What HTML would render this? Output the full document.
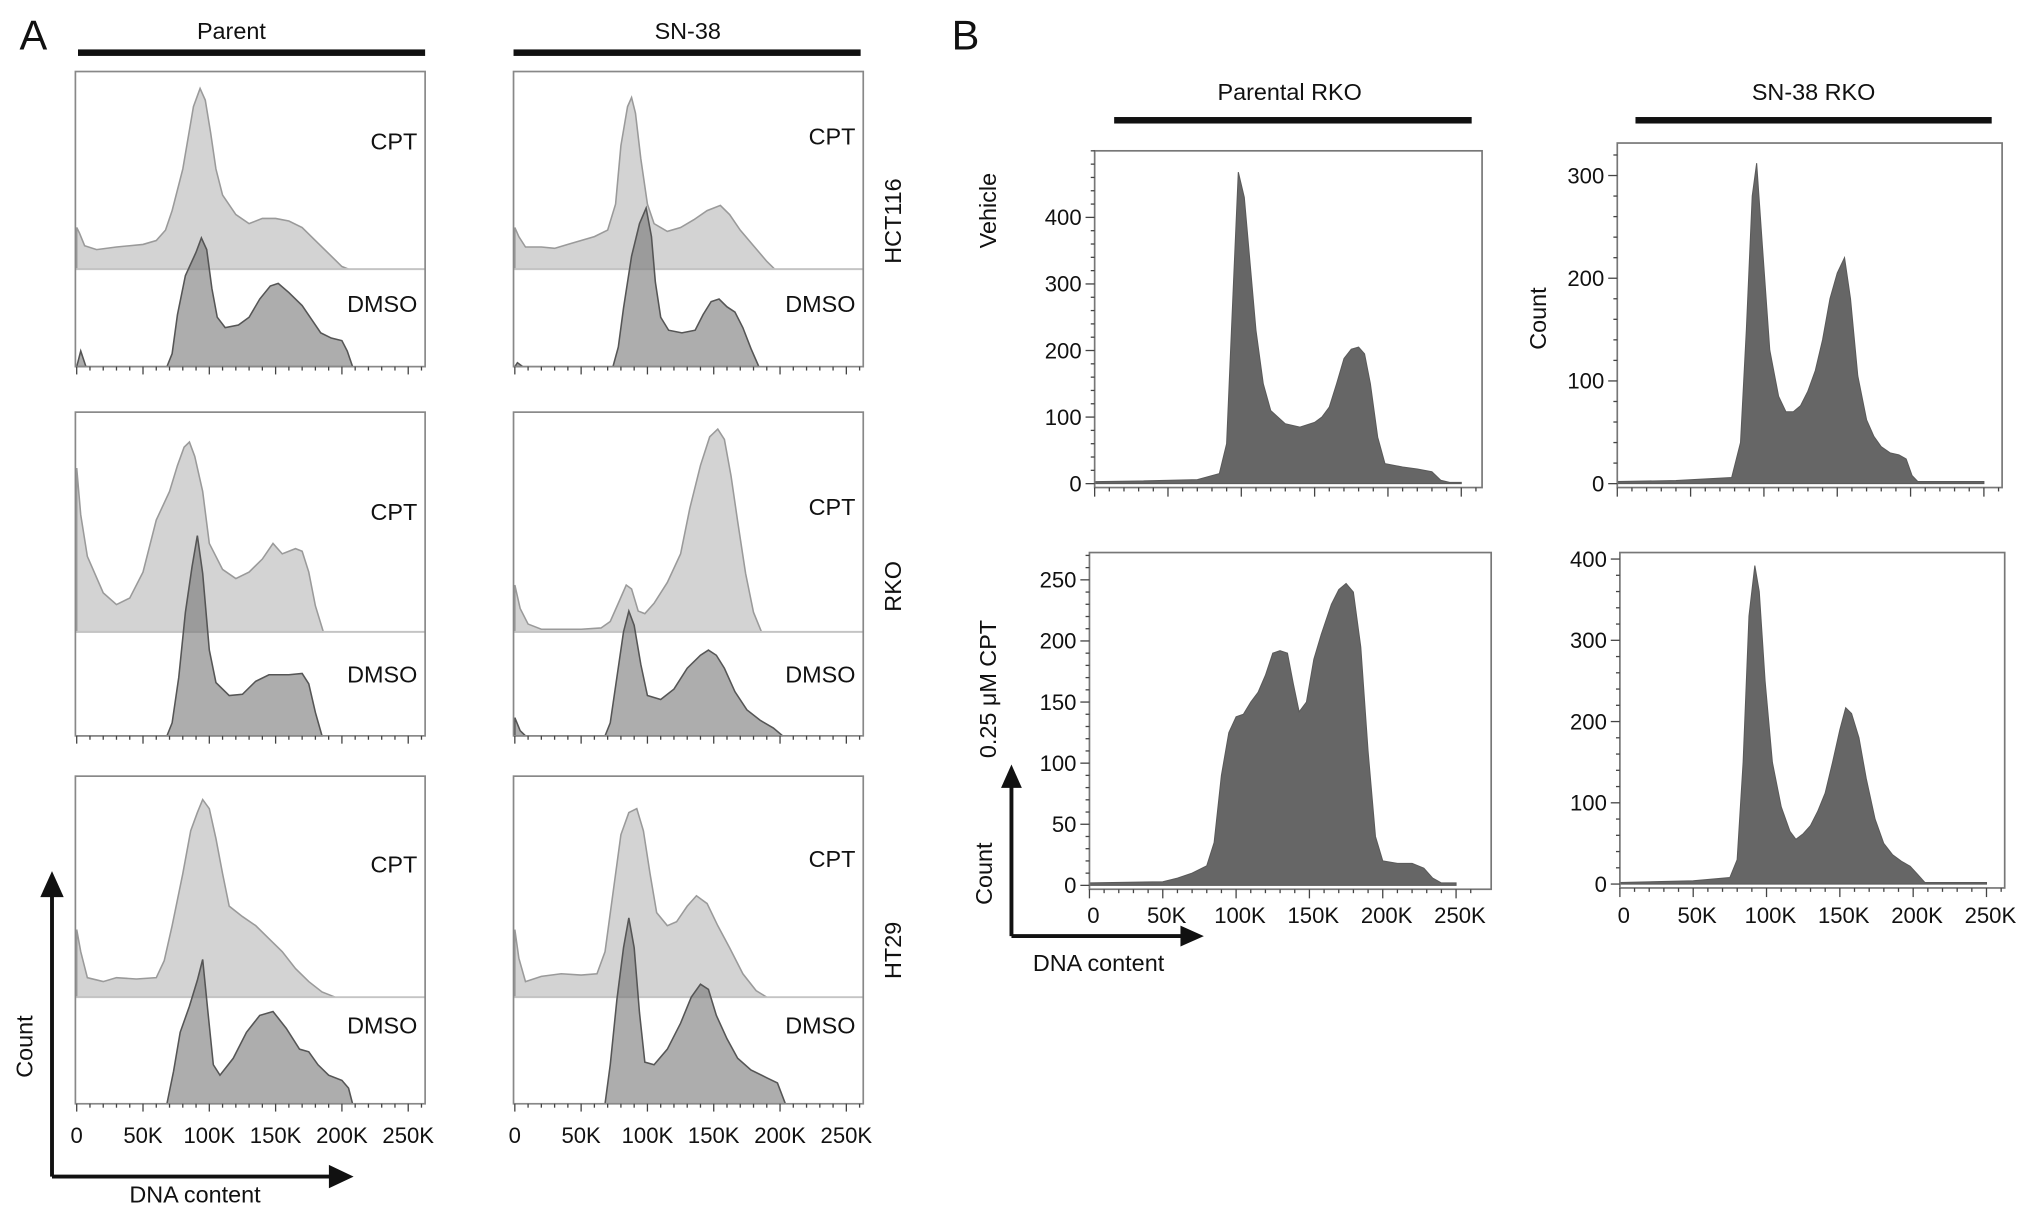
<!DOCTYPE html>
<html><head><meta charset="utf-8"><style>
html,body{margin:0;padding:0;background:#fff;}
svg{display:block;font-family:"Liberation Sans",sans-serif;}
</style></head><body>
<svg id="fig" width="2032" height="1213" viewBox="0 0 1563 933" xmlns="http://www.w3.org/2000/svg">
<g id="static" fill="#111">
<text x="15" y="38" font-size="32">A</text>
<text x="178" y="30" font-size="18" text-anchor="middle">Parent</text>
<rect x="60" y="38" width="267" height="5"/>
<text x="529" y="30" font-size="18" text-anchor="middle">SN-38</text>
<rect x="395" y="38" width="267" height="5"/>
<text transform="translate(693,170) rotate(-90)" font-size="18" text-anchor="middle">HCT116</text>
<text transform="translate(693,451) rotate(-90)" font-size="18" text-anchor="middle">RKO</text>
<text transform="translate(693,731) rotate(-90)" font-size="18" text-anchor="middle">HT29</text>
<g>
<line x1="40" y1="905" x2="40" y2="688" stroke="#111" stroke-width="3"/>
<polygon points="31,690 49,690 40,670" fill="#111"/>
<line x1="40" y1="905" x2="255" y2="905" stroke="#111" stroke-width="3"/>
<polygon points="253,896 253,914 272,905" fill="#111"/>
</g>
<text transform="translate(25,805) rotate(-90)" font-size="18" text-anchor="middle">Count</text>
<text x="150" y="925" font-size="18" text-anchor="middle">DNA content</text>

<text x="732" y="38" font-size="32">B</text>
<text x="992" y="77" font-size="18" text-anchor="middle">Parental RKO</text>
<rect x="857" y="90" width="275" height="5"/>
<text x="1395" y="77" font-size="18" text-anchor="middle">SN-38 RKO</text>
<rect x="1258" y="90" width="274" height="5"/>
<text transform="translate(766,162) rotate(-90)" font-size="18" text-anchor="middle">Vehicle</text>
<text transform="translate(766,530) rotate(-90)" font-size="18" text-anchor="middle">0.25 μM CPT</text>
<text transform="translate(1189,245) rotate(-90)" font-size="18" text-anchor="middle">Count</text>
<g>
<line x1="778" y1="720" x2="778" y2="604" stroke="#111" stroke-width="3"/>
<polygon points="770,606 786,606 778,588" fill="#111"/>
<line x1="778" y1="720" x2="910" y2="720" stroke="#111" stroke-width="3"/>
<polygon points="908,712 908,728 926,720" fill="#111"/>
</g>
<text transform="translate(763,672) rotate(-90)" font-size="18" text-anchor="middle">Count</text>
<text x="845" y="747" font-size="18" text-anchor="middle">DNA content</text>
</g>
<g id="plots"></g>
</svg>
<script>
// ---- Panel A data: [DNA content (K), relative count] ----
const hctParentCpt=[[0,32],[2,28],[6,18],[15,15],[30,17],[50,19],[60,22],[67,30],[72,45],[80,77],[88,125],[93,139],[97,130],[101,105],[105,77],[110,57],[120,42],[130,35],[140,39],[150,39],[160,37],[170,32],[180,22],[190,12],[200,2],[205,0]];
const hctParentDmso=[[0,0],[3,12],[7,0],[68,0],[72,10],[76,40],[82,70],[90,88],[94,99],[98,90],[102,60],[106,38],[112,30],[122,32],[130,38],[138,52],[146,62],[152,64],[160,57],[170,47],[178,35],[184,26],[192,22],[200,20],[204,12],[208,0]];
const hctSnCpt=[[0,32],[3,25],[8,17],[20,17],[30,16],[40,19],[50,22],[60,25],[70,30],[76,50],[80,95],[85,125],[88,132],[91,120],[95,85],[100,50],[105,35],[115,29],[125,32],[135,38],[145,45],[155,49],[162,42],[170,30],[180,18],[190,6],[196,0]];
const hctSnDmso=[[0,0],[2,3],[6,0],[74,0],[78,15],[82,45],[88,85],[94,110],[99,122],[103,100],[106,65],[110,38],[116,28],[126,26],[136,28],[142,40],[148,50],[154,52],[160,46],[166,42],[172,30],[178,14],[184,0]];
const rkoParentCpt=[[0,126],[3,90],[8,58],[20,30],[30,21],[40,26],[50,46],[60,86],[70,108],[76,128],[81,142],[85,146],[89,135],[95,108],[100,68],[110,48],[120,41],[130,46],[140,56],[148,68],[155,60],[165,64],[170,62],[175,46],[180,20],[186,0]];
const rkoParentDmso=[[0,0],[68,0],[72,10],[77,45],[82,95],[87,130],[91,154],[95,125],[100,66],[105,41],[115,31],[125,32],[135,42],[145,47],[160,47],[170,48],[175,40],[180,18],[185,0]];
const rkoSnCpt=[[0,36],[4,18],[10,6],[20,2],[50,2],[65,3],[72,8],[78,22],[84,36],[88,33],[93,16],[98,14],[105,22],[115,38],[125,60],[132,95],[140,128],[147,150],[153,156],[158,148],[163,120],[168,85],[174,45],[180,15],[186,0]];
const rkoSnDmso=[[0,14],[4,4],[8,0],[68,0],[72,10],[77,45],[82,80],[86,96],[90,85],[95,55],[100,31],[110,28],[120,36],[130,52],[140,62],[146,66],[152,62],[158,52],[166,34],[175,20],[185,12],[195,6],[202,0]];
const htParentCpt=[[0,52],[3,35],[8,15],[20,12],[30,15],[45,14],[60,15],[66,28],[72,55],[80,95],[86,128],[91,142],[95,152],[100,145],[105,122],[110,95],[115,70],[125,62],[135,55],[145,45],[155,35],[165,22],[175,12],[185,4],[195,0]];
const htParentDmso=[[0,0],[68,0],[73,25],[78,55],[85,75],[91,95],[95,111],[99,70],[103,30],[108,22],[118,35],[128,55],[138,68],[148,71],[158,58],[168,42],[175,40],[182,30],[190,22],[200,18],[205,12],[208,0]];
const htSnCpt=[[0,52],[3,30],[8,12],[20,16],[35,18],[50,17],[62,18],[68,35],[74,80],[80,125],[86,142],[92,145],[97,128],[102,95],[107,65],[115,55],[122,58],[130,70],[137,78],[145,72],[153,55],[162,38],[172,18],[182,5],[190,0]];
const htSnDmso=[[0,0],[68,0],[72,30],[77,80],[82,120],[86,143],[90,120],[94,70],[98,32],[105,30],[115,42],[125,62],[133,82],[140,92],[146,88],[152,68],[160,50],[168,35],[178,26],[190,20],[198,16],[204,0]];
// ---- Panel B data: [DNA content (K), count] ----
const parVehicle=[[0,3],[30,4],[70,6],[85,15],[90,60],[95,320],[98,468],[102,430],[106,330],[110,230],[115,150],[120,110],[130,90],[140,85],[150,92],[155,100],[160,115],[165,150],[170,188],[175,202],[180,205],[184,195],[188,150],[193,70],[198,30],[210,25],[220,22],[230,18],[236,5],[242,2],[250,2]];
const snVehicle=[[0,2],[40,3],[78,6],[84,40],[88,150],[92,280],[95,312],[99,230],[104,130],[110,85],[115,70],[120,70],[125,76],[130,90],[135,110],[140,140],[145,180],[150,205],[155,220],[159,180],[164,105],[170,62],[175,46],[180,36],[186,30],[192,28],[197,24],[201,8],[205,2],[250,2]];
const parCpt=[[0,2],[50,3],[60,6],[70,10],[80,16],[85,35],[90,90],[95,125],[100,138],[105,140],[110,150],[115,158],[120,172],[125,190],[130,192],[135,190],[139,165],[143,142],[148,150],[153,185],[158,205],[165,230],[170,242],[175,247],[180,240],[185,195],[190,110],[195,40],[200,20],[210,18],[220,18],[228,14],[234,6],[240,2],[250,2]];
const snCpt=[[0,2],[50,4],[75,8],[80,30],[84,150],[88,330],[92,392],[95,360],[99,250],[104,150],[110,95],[116,65],[120,55],[125,62],[130,72],[135,90],[140,112],[145,150],[150,190],[154,217],[158,210],[163,180],[168,130],[174,80],[180,50],[186,36],[192,28],[198,22],[203,12],[208,2],[250,2]];
const xTickLabels=["0","50K","100K","150K","200K","250K"];
const xTickValues=[0,50,100,150,200,250];
const ytVehPar=[0,100,200,300,400], ytVehSn=[0,100,200,300], ytCptPar=[0,50,100,150,200,250], ytCptSn=[0,100,200,300,400];

const NS="http://www.w3.org/2000/svg";
const root=document.getElementById('plots');
function mk(tag,attrs,parent){const e=document.createElementNS(NS,tag);for(const k in attrs)e.setAttribute(k,attrs[k]);(parent||root).appendChild(e);return e;}
function areaD(pts,xf,yf,base){let d='M'+xf(pts[0][0])+','+base;pts.forEach(p=>{d+=' L'+xf(p[0]).toFixed(1)+','+yf(p[1]).toFixed(1);});d+=' L'+xf(pts[pts.length-1][0])+','+base+' Z';return d;}

// Panel A
const colX0=[59,396], colLeft=[58,395];
const rows=[{top:55,mid:207,bot:282},{top:317,mid:486,bot:566},{top:597,mid:767,bot:849}];
const dataA=[[hctParentCpt,hctParentDmso,hctSnCpt,hctSnDmso],[rkoParentCpt,rkoParentDmso,rkoSnCpt,rkoSnDmso],[htParentCpt,htParentDmso,htSnCpt,htSnDmso]];
const rowNames=['hct116','rko','ht29'], colNames=['parent','sn38'];
const cptLabY=[[115,111],[400,396],[671,667]], dmsoLabY=[[240,240],[525,525],[795,795]];
rows.forEach((r,ri)=>{[0,1].forEach(ci=>{
  const xf=k=>colX0[ci]+k*1.02;
  const g=mk('g',{});
  
  
  const cpt=dataA[ri][ci*2], dmso=dataA[ri][ci*2+1];
  const c=mk('path',{d:areaD(cpt,xf,v=>r.mid-v,r.mid),fill:'#d3d3d3',stroke:'#9a9a9a','stroke-width':1.2},g);
  
  
  const ml=mk('line',{x1:colLeft[ci],x2:colLeft[ci]+269,y1:r.mid,y2:r.mid,stroke:'#c4c4c4','stroke-width':1.5},g);
  
  
  const dm=mk('path',{d:areaD(dmso,xf,v=>r.bot-v,r.bot),fill:'#777','fill-opacity':0.6,stroke:'#555','stroke-width':1.2},g);
  
  
  const box=mk('rect',{x:colLeft[ci],y:r.top,width:269,height:r.bot-r.top,fill:'none',stroke:'#888','stroke-width':1.3},g);
  
  
  for(let k=0;k<=260;k+=10){const maj=k%50===0;
    const t=mk('line',{x1:xf(k),x2:xf(k),y1:r.bot,y2:r.bot+(maj?6:3),stroke:'#444','stroke-width':1},g);
    
    }
  const t1=mk('text',{x:colLeft[ci]+263,y:cptLabY[ri][ci],'font-size':18,'text-anchor':'end',fill:'#111'},g);t1.textContent='CPT';
  
  
  const t2=mk('text',{x:colLeft[ci]+263,y:dmsoLabY[ri][ci],'font-size':18,'text-anchor':'end',fill:'#111'},g);t2.textContent='DMSO';
  
  
  if(ri===2){xTickValues.forEach((v,i)=>{const tl=mk('text',{x:xf(v),y:879,'font-size':17,'text-anchor':'middle',fill:'#111'},g);tl.textContent=xTickLabels[i];
    
    });}
});});

// Panel B
const panelsB=[
 {name:'parental-vehicle',data:parVehicle,x0:842,right:1140,top:116,y0:372,ys:0.512,yt:ytVehPar,minor:20},
 {name:'sn38-vehicle',data:snVehicle,x0:1244,right:1540,top:110,y0:372,ys:0.79,yt:ytVehSn,minor:20},
 {name:'parental-cpt',data:parCpt,x0:838,right:1147,top:425,y0:681,ys:0.94,yt:ytCptPar,minor:10},
 {name:'sn38-cpt',data:snCpt,x0:1246,right:1542,top:425,y0:680,ys:0.625,yt:ytCptSn,minor:20}];
panelsB.forEach(p=>{
  const xf=k=>p.x0+k*1.128, yf=v=>p.y0-v*p.ys;
  const g=mk('g',{});
  
  
  const a=mk('path',{d:areaD(p.data,xf,yf,p.y0),fill:'#666',stroke:'#5a5a5a','stroke-width':0.8},g);
  
  
  const box=mk('rect',{x:p.x0,y:p.top,width:p.right-p.x0,height:p.y0+3-p.top,fill:'none',stroke:'#777','stroke-width':1.3},g);
  
  
  const yb=p.y0+3;
  for(let k=0;k<=260;k+=10){const maj=k%50===0;
    const t=mk('line',{x1:xf(k),x2:xf(k),y1:yb,y2:yb+(maj?7:3),stroke:'#444','stroke-width':1},g);
    
    }
  xTickValues.forEach((v,i)=>{const tl=mk('text',{x:xf(v)+3,y:710,'font-size':17,'text-anchor':'middle',fill:'#111'},g);tl.textContent=xTickLabels[i];
    if(p.top>200){tl.setAttribute('y',710);}else{tl.setAttribute('y',0);tl.setAttribute('visibility','hidden');}
    
    });
  const ymax=(p.y0-p.top)/p.ys;
  for(let v=0;v<=ymax;v+=p.minor){const maj=p.yt.includes(v);
    const t=mk('line',{x1:p.x0,x2:p.x0-(maj?7:3),y1:yf(v),y2:yf(v),stroke:'#444','stroke-width':1},g);
    
    }
  p.yt.forEach(v=>{const tl=mk('text',{x:p.x0-10,y:yf(v)+6,'font-size':17,'text-anchor':'end',fill:'#111'},g);tl.textContent=String(v);
    
    });
});
</script>
</body></html>
